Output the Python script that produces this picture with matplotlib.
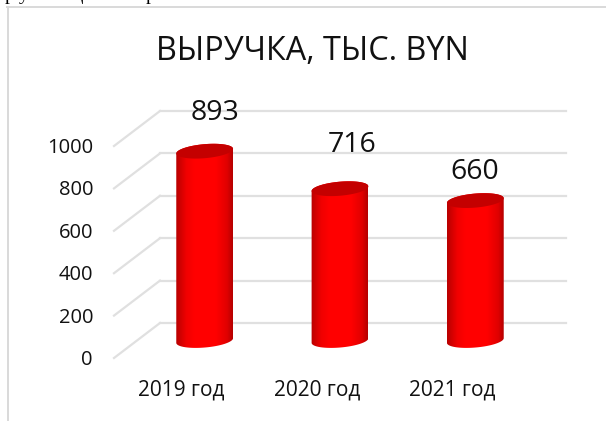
import matplotlib.pyplot as plt
import numpy as np
from matplotlib.colors import LinearSegmentedColormap
from matplotlib.patches import PathPatch, Polygon
from matplotlib.path import Path

W, H = 606, 421

categories = ["2019 год", "2020 год", "2021 год"]
values = [893, 716, 660]
yticks = [0, 200, 400, 600, 800, 1000]
title = "ВЫРУЧКА, ТЫС. BYN"

# hand placed value labels, offset from the top of each cylinder in pixels
label_dx = [10, 12, -1]
label_dy = [38, 44, 29]

plt.rcParams['font.family'] = ['Open Sans', 'DejaVu Sans']

# pixel box of the back wall of the 3D chart
LEFT, RIGHT, BOTTOM, TOP = 160, 566, 323, 111
PX_X = 3 / (RIGHT - LEFT)      # data units per pixel, x
PX_Y = 1000 / (BOTTOM - TOP)   # data units per pixel, y
DEPTH_X, DEPTH_Y = 46 * PX_X, 35 * PX_Y
TILT = np.radians(5)

fig = plt.figure(figsize=(W / 100, H / 100), dpi=100, facecolor='white')
ax = fig.add_axes([LEFT / W, 1 - BOTTOM / H, (RIGHT - LEFT) / W, (BOTTOM - TOP) / H])
ax.axis('off')

grey = '#E0E0E0'
for t in yticks:
    ax.plot([-0.5, 2.5], [t, t], color=grey, lw=1.6, clip_on=False, zorder=1)
    ax.plot([-0.5 - DEPTH_X, -0.5], [t - DEPTH_Y, t], color=grey, lw=1.6, clip_on=False, zorder=1)
    ax.text(-0.5 - DEPTH_X - 21 * PX_X, t - DEPTH_Y - 2 * PX_Y, str(t), ha='right', va='center',
            fontsize=14.5, color='#111111', clip_on=False)

cmap = LinearSegmentedColormap.from_list(
    'cyl', [(0, '#B80000'), (0.18, '#F00000'), (0.32, '#FF0000'), (0.70, '#FF0000'), (0.90, '#E00000'), (1, '#B40000')])
grad = np.linspace(0, 1, 256).reshape(1, -1)

RX, RY = 28.5, 7


def ellipse(cx, cy, a, b):
    """Tilted ellipse outline, sizes in pixels, result in data units."""
    t = np.linspace(a, b, 80)
    px = RX * np.cos(t) * np.cos(TILT) - RY * np.sin(t) * np.sin(TILT)
    py = RX * np.cos(t) * np.sin(TILT) + RY * np.sin(t) * np.cos(TILT)
    return np.column_stack([cx + px * PX_X, cy + py * PX_Y])


for i, v in enumerate(values):
    cx = i - DEPTH_X / 2
    base = -DEPTH_Y / 2
    top = v - DEPTH_Y / 2
    lower = ellipse(cx, base, np.pi, 2 * np.pi)
    upper = ellipse(cx, top, 0, np.pi)
    verts = np.vstack([lower, upper, lower[:1]])
    body = PathPatch(Path(verts, closed=True), transform=ax.transData, fc='none', ec='none', clip_on=False)
    ax.add_patch(body)
    im = ax.imshow(grad, cmap=cmap, aspect='auto', zorder=3,
                   extent=[cx - RX * PX_X, cx + RX * PX_X, base - 12 * PX_Y, top + 12 * PX_Y])
    im.set_clip_box(fig.bbox)
    im.set_clip_path(body)
    ax.add_patch(Polygon(ellipse(cx, top, 0, 2 * np.pi), closed=True, fc='#C40000', ec='none',
                         zorder=4, clip_on=False))
    ax.text(cx + label_dx[i] * PX_X, top + label_dy[i] * PX_Y, str(v), ha='center', va='center',
            fontsize=20.5, color='#111111', zorder=5, clip_on=False)
    ax.text(cx - 23 * PX_X, -DEPTH_Y - 32 * PX_Y, categories[i], ha='center', va='center',
            fontsize=15, color='#111111', clip_on=False)

ax.set_xlim(-0.5, 2.5)
ax.set_ylim(0, 1000)

fig.text(312 / W, 1 - 51.5 / H, title, ha='center', va='center', fontsize=23.3, color='#111111')

# frame of the embedded chart, only top and left show
fig.add_artist(plt.Line2D([7.5 / W, 7.5 / W], [1 - 7 / H, 0], color='#D9D9D9', lw=1.4))
fig.add_artist(plt.Line2D([7 / W, 1], [1 - 7 / H, 1 - 7 / H], color='#D9D9D9', lw=1.4))

# descenders of the page text cut off above the chart
for x, ch in [(10, 'р'), (24, 'у'), (78, 'ц'), (150, 'р')]:
    fig.text(x / W, 1 - 0.5 / H, ch, ha='center', va='baseline', fontsize=14,
             family='Liberation Serif', color='black')

fig.savefig('out.png', dpi=100, facecolor='white')
